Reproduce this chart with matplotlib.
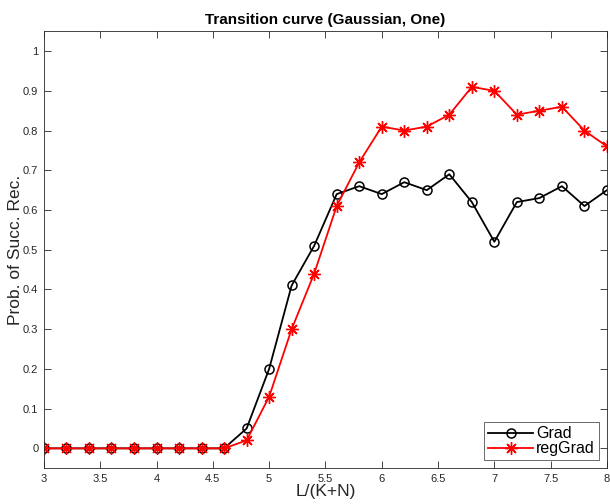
import matplotlib

matplotlib.use("Agg")

import matplotlib.pyplot as plt

plt.rcParams["font.family"] = ["Liberation Sans", "DejaVu Sans"]

L_RATIO = [3.0, 3.2, 3.4, 3.6, 3.8, 4.0, 4.2, 4.4, 4.6, 4.8, 5.0, 5.2, 5.4,
           5.6, 5.8, 6.0, 6.2, 6.4, 6.6, 6.8, 7.0, 7.2, 7.4, 7.6, 7.8, 8.0]
GRAD = [0, 0, 0, 0, 0, 0, 0, 0, 0, 0.05, 0.20, 0.41, 0.51,
        0.64, 0.66, 0.64, 0.67, 0.65, 0.69, 0.62, 0.52, 0.62, 0.63, 0.66, 0.61, 0.65]
REG_GRAD = [0, 0, 0, 0, 0, 0, 0, 0, 0, 0.02, 0.13, 0.30, 0.44,
            0.61, 0.72, 0.81, 0.80, 0.81, 0.84, 0.91, 0.90, 0.84, 0.85, 0.86, 0.80, 0.76]
X_TICKS = [3, 3.5, 4, 4.5, 5, 5.5, 6, 6.5, 7, 7.5, 8]
Y_TICKS = [0, 0.1, 0.2, 0.3, 0.4, 0.5, 0.6, 0.7, 0.8, 0.9, 1]

fig = plt.figure(figsize=(6.1, 5.04), dpi=100)
ax = fig.add_axes([0.072, 0.071, 0.923, 0.867])

dark = "#262626"
ax.plot(L_RATIO, GRAD, color="black", marker="o", markersize=6.5,
        markerfacecolor="none", markeredgewidth=1.1, linewidth=1.3, label="Grad")
# MATLAB-style asterisk: eight spokes
ax.plot(L_RATIO, REG_GRAD, color="red", marker=(8, 2, 0), markersize=9,
        markeredgewidth=1.0, linewidth=1.3, label="regGrad")

ax.set_xlim(3, 8)
ax.set_ylim(-0.05, 1.05)
ax.set_xticks(X_TICKS)
ax.set_xticklabels([f"{t:g}" for t in X_TICKS])
ax.set_yticks(Y_TICKS)
ax.set_yticklabels([f"{t:g}" for t in Y_TICKS])
ax.tick_params(direction="in", top=True, right=True, length=5, width=0.6,
               labelsize=8, colors=dark, pad=4)
for spine in ax.spines.values():
    spine.set_color(dark)
    spine.set_linewidth(0.6)

ax.set_xlabel("L/(K+N)", fontsize=12.5, color=dark, labelpad=0)
ax.set_ylabel("Prob. of Succ. Rec.", fontsize=12.5, color=dark, labelpad=0)
ax.set_title("Transition curve (Gaussian, One)", fontsize=11, fontweight="bold", pad=5)

leg = ax.legend(loc="lower right", fontsize=11.5, frameon=True, fancybox=False,
                handlelength=2.8, handletextpad=0.2, borderpad=0.25, labelspacing=0.0,
                borderaxespad=0.5)
leg.get_frame().set_edgecolor(dark)
leg.get_frame().set_linewidth(0.6)

fig.savefig("out.png", dpi=100)
